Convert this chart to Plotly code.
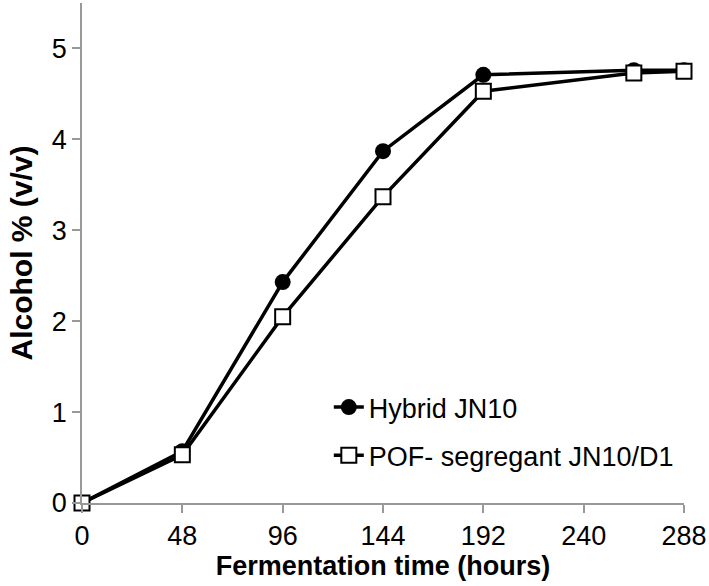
import plotly.graph_objects as go

hours = [0, 48, 96, 144, 192, 264, 288]
hybrid = [0, 0.57, 2.43, 3.87, 4.71, 4.76, 4.76]
pof = [0, 0.53, 2.05, 3.37, 4.53, 4.73, 4.75]
x_ticks = [0, 48, 96, 144, 192, 240, 288]
y_ticks = [0, 1, 2, 3, 4, 5]

font = "Liberation Sans, Arial, sans-serif"

fig = go.Figure()
fig.add_trace(go.Scatter(
    x=hours, y=hybrid, mode="lines+markers", name="Hybrid JN10",
    legendgroup="a",
    line=dict(color="black", width=3.5),
    marker=dict(symbol="circle", size=16, color="black"),
    cliponaxis=False,
))
fig.add_trace(go.Scatter(
    x=hours, y=pof, mode="lines+markers", name="POF- segregant JN10/D1",
    legendgroup="b",
    line=dict(color="black", width=3.5),
    marker=dict(symbol="square", size=15, color="white",
                line=dict(color="black", width=2)),
    cliponaxis=False,
))

axis_common = dict(
    showgrid=False, zeroline=False, showline=True, automargin=False,
    linecolor="#999999", linewidth=1.5,
    ticks="outside", tickcolor="#999999", ticklen=8, tickwidth=1.5,
    tickfont=dict(family=font, size=27, color="black"),
)

fig.update_layout(
    width=709, height=586,
    margin=dict(l=82, r=25, t=3, b=83),
    paper_bgcolor="white", plot_bgcolor="white",
    font=dict(family=font, color="black"),
    xaxis=dict(range=[0, 288], tickvals=x_ticks,
               title=dict(text="<b>Fermentation time (hours)</b>",
                          font=dict(family=font, size=27), standoff=4),
               **axis_common),
    yaxis=dict(range=[0, 5.5], tickvals=y_ticks,
               title=dict(text="<b>Alcohol % (v/v)</b>",
                          font=dict(family=font, size=30), standoff=10),
               **axis_common),
    legend=dict(x=0.41, y=0.24, xanchor="left", yanchor="top",
                traceorder="grouped", tracegroupgap=10,
                font=dict(family=font, size=27, color="black"),
                bgcolor="rgba(0,0,0,0)"),
)

# drop the default body margin so the figure sits at the page corner
fig.write_html("out.html", config={"displayModeBar": False},
               post_script="document.body.style.margin='0';")
